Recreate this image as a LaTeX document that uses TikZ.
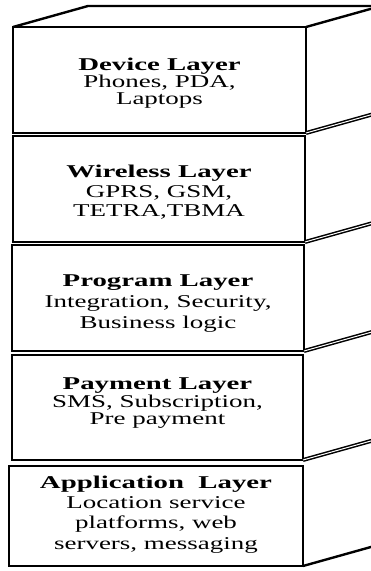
\documentclass[tikz,border=0pt]{standalone}
\usepackage{fontspec}
\setmainfont{Liberation Serif}[FakeStretch=1.5, BoldFeatures={FakeStretch=1.6}]
\tikzset{
  layerbox/.style={draw=black, line width=2.6pt, outer sep=0pt, inner sep=0pt, rectangle},
  face/.style={draw=black, line width=2.4pt, line join=miter},
  seam/.style={draw=black, line width=1.5pt, double=white, double distance=1pt},
  layertext/.style={align=center, inner sep=0pt, text=black}
}
\newcommand{\lfont}[1]{\fontsize{18}{#1}\selectfont}
\begin{document}
\begin{tikzpicture}[x=1pt,y=-1pt]
\useasboundingbox (0,0) rectangle (371,571);
\clip (0,0) rectangle (371,571);
% front faces
\node[layerbox, minimum width=293pt, minimum height=106pt] (b1) at (159.5,80) {};
\node[layerbox, minimum width=292pt, minimum height=106pt] (b2) at (159,189) {};
\node[layerbox, minimum width=292pt, minimum height=106pt] (b3) at (158,298) {};
\node[layerbox, minimum width=291pt, minimum height=105pt] (b4) at (157.5,407.5) {};
\node[layerbox, minimum width=294pt, minimum height=100pt] (b5) at (156,516) {};
% top face
\draw[face] (b1.north west) -- ++(75,-21) coordinate (tl) -- ++(320,0);
\draw[face] (b1.north east) -- ++(75,-21);
% side seams
\draw[seam] (b1.south east) -- ++(75,-21);
\draw[seam] (b2.south east) -- ++(75,-21);
\draw[seam] (b3.south east) -- ++(75,-21);
\draw[seam] (b4.south east) -- ++(75,-21);
\draw[face] (b5.south east) -- ++(75,-21);
% texts
\node[layertext, font=\lfont{17}] (t1) at (159.5,83) {\textbf{Device Layer}\\Phones, PDA,\\Laptops};
\node[layertext, font=\lfont{19.5}] (t2) at (159,192.5) {\textbf{Wireless Layer}\\GPRS, GSM,\\TETRA,TBMA};
\node[layertext, font=\lfont{21}] (t3) at (158,304) {\textbf{Program Layer}\\Integration, Security,\\Business logic};
\node[layertext, font=\lfont{17.5}] (t4) at (157.5,403.5) {\textbf{Payment Layer}\\SMS, Subscription,\\Pre payment};
\node[layertext, font=\lfont{20.3}] (t5) at (156,514.5) {\textbf{Application~ Layer}\\Location service\\platforms, web\\servers, messaging};
\end{tikzpicture}
\end{document}
